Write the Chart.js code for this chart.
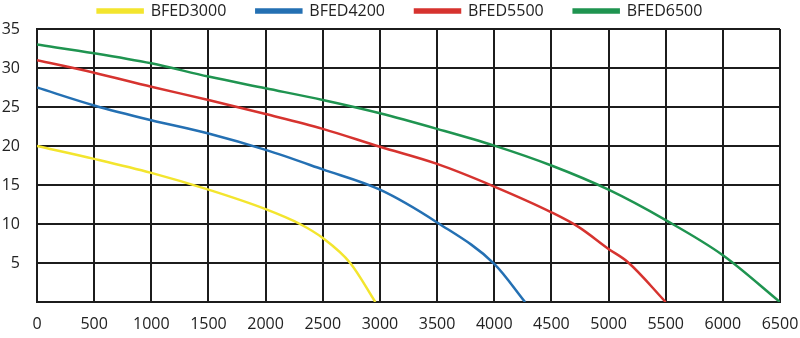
<!DOCTYPE html>
<html>
<head>
<meta charset="utf-8">
<script src="https://cdn.jsdelivr.net/npm/chart.js@4.4.1/dist/chart.umd.min.js"></script>
<style>
  html, body { margin: 0; padding: 0; background: #fff; }
  #wrap { width: 800px; height: 338px; }
</style>
</head>
<body>
<div id="wrap"><canvas id="pumpChart"></canvas></div>
<script>
// flow (x) and head (y) readings for each pump model
const flow3000 = [0, 500, 1000, 1500, 2000, 2300, 2500, 2740, 2960];
const head3000 = [20, 18.35, 16.55, 14.4, 11.9, 10, 8.2, 5, 0];

const flow4200 = [0, 500, 1000, 1500, 2000, 2500, 3000, 3500, 4000, 4270];
const head4200 = [27.5, 25.2, 23.3, 21.6, 19.5, 17.0, 14.4, 10.2, 4.9, 0];

const flow5500 = [0, 500, 1000, 1500, 2000, 2500, 3000, 3500, 4000, 4500, 4740, 5000, 5170, 5500];
const head5500 = [31, 29.4, 27.6, 25.9, 24.1, 22.2, 19.9, 17.7, 14.8, 11.5, 9.6, 6.8, 5.1, 0];

const flow6500 = [0, 500, 1000, 1500, 2000, 2500, 3000, 3500, 4000, 4500, 5000, 5500, 6000, 6500];
const head6500 = [33, 31.9, 30.6, 28.9, 27.4, 25.9, 24.2, 22.2, 20.05, 17.5, 14.4, 10.5, 6.0, 0];

const xTicks = { min: 0, max: 6500, step: 500 };
const yTicks = { min: 0, max: 35, step: 5 };

const toPoints = (xs, ys) => xs.map((x, i) => ({ x: x, y: ys[i] }));

const series = (label, xs, ys, color) => ({
  label: label,
  data: toPoints(xs, ys),
  borderColor: color,
  backgroundColor: color,
  borderWidth: 2.5,
  pointRadius: 0,
  cubicInterpolationMode: 'monotone',
});

const data = {
  datasets: [
    series('BFED3000', flow3000, head3000, '#f3e52e'),
    series('BFED4200', flow4200, head4200, '#2470b3'),
    series('BFED5500', flow5500, head5500, '#d6332f'),
    series('BFED6500', flow6500, head6500, '#1f9450'),
  ]
};

const gridColor = '#1c1c1c';

const config = {
  type: 'line',
  data: data,
  options: {
    responsive: true,
    maintainAspectRatio: false,
    animation: false,
    // legend padding is wide to space the items, so pull it up above the canvas edge
    layout: { padding: { top: -27, right: 0, left: 0, bottom: 0 } },
    plugins: {
      tooltip: { enabled: false },
      legend: {
        position: 'top',
        labels: {
          boxWidth: 45,
          boxHeight: 3,
          padding: 30,
          color: '#222',
          font: { family: 'Open Sans', size: 16 }
        }
      }
    },
    scales: {
      x: {
        type: 'linear',
        min: xTicks.min,
        max: xTicks.max,
        afterFit: (scale) => {
          scale.height = 36;
          scale.paddingRight = 20;
        },
        ticks: {
          stepSize: xTicks.step,
          padding: 13,
          maxRotation: 0,
          color: '#222',
          font: { family: 'Open Sans', size: 16 },
          callback: (v) => String(v)
        },
        grid: { color: gridColor, lineWidth: 2, drawTicks: false },
        border: { color: gridColor, width: 2 }
      },
      y: {
        min: yTicks.min,
        max: yTicks.max,
        afterFit: (scale) => { scale.width = 37; },
        ticks: {
          stepSize: yTicks.step,
          padding: 17,
          color: '#222',
          font: { family: 'Open Sans', size: 16 },
          callback: (v) => (v === 0 ? '' : String(v))
        },
        grid: { color: gridColor, lineWidth: 2, drawTicks: false },
        border: { color: gridColor, width: 2 }
      }
    }
  },
};

const chart = new Chart(document.getElementById('pumpChart'), config);
</script>
</body>
</html>
